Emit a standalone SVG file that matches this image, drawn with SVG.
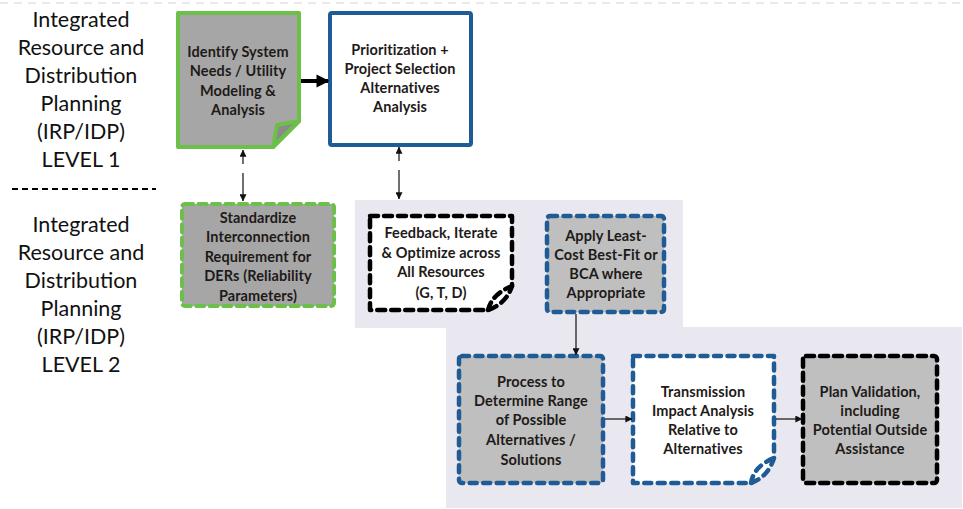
<svg xmlns="http://www.w3.org/2000/svg" width="963" height="509" viewBox="0 0 963 509">
  <defs>
    <marker id="headBig" viewBox="0 0 10 10" refX="9" refY="5" markerWidth="3.2" markerHeight="3.6" orient="auto" markerUnits="strokeWidth">
      <path d="M0,0 L10,5 L0,10 Z" fill="#000"/>
    </marker>
    <marker id="head" viewBox="0 0 10 10" refX="9.5" refY="5" markerWidth="7" markerHeight="7" orient="auto" markerUnits="userSpaceOnUse">
      <path d="M0,0 L10,5 L0,10 Z" fill="#111"/>
    </marker>
  </defs>
  <style>
    .side { font-family: Lato, "Liberation Sans", sans-serif; font-size: 21.5px; fill: #111; text-anchor: middle; }
    .lbl { font-family: Lato, "Liberation Sans", sans-serif; font-size: 14.5px; font-weight: bold; fill: #1e1a18; text-anchor: middle; letter-spacing: 0.1px; }
    .panel { fill: #e9e7f0; }
    .green { stroke: #6cc04a; stroke-width: 4; stroke-linejoin: round; }
    .blue { stroke: #1f5b94; stroke-width: 4; stroke-linejoin: round; }
    .dash { stroke-dasharray: 8 5.5; stroke-linecap: round; }
    .dashBlk { stroke: #000; stroke-width: 4.5; stroke-dasharray: 8 6; stroke-linecap: round; stroke-linejoin: round; }
    .dashBlue { stroke: #1f5b94; stroke-width: 4.5; stroke-dasharray: 7 6.5; stroke-linecap: round; stroke-linejoin: round; }
    .gray1 { fill: #a6a6a6; }
    .gray2 { fill: #bfbfbf; }
    .thin { stroke: #222; stroke-width: 1.3; fill: none; }
  </style>

  <!-- faint rule along the top edge -->
  <line x1="0" y1="3" x2="963" y2="3" stroke="#e4e4e4" stroke-width="1.5" stroke-dasharray="8 6"/>

  <!-- level captions -->
  <g id="level1">
    <text class="side" x="81" y="27">Integrated</text>
    <text class="side" x="81" y="55">Resource and</text>
    <text class="side" x="81" y="83">Distribution</text>
    <text class="side" x="81" y="111">Planning</text>
    <text class="side" x="81" y="139">(IRP/IDP)</text>
    <text class="side" x="81" y="167">LEVEL 1</text>
  </g>
  <line x1="12" y1="189" x2="156" y2="189" stroke="#000" stroke-width="2" stroke-dasharray="6 4"/>
  <g id="level2">
    <text class="side" x="81" y="232">Integrated</text>
    <text class="side" x="81" y="260">Resource and</text>
    <text class="side" x="81" y="288">Distribution</text>
    <text class="side" x="81" y="316">Planning</text>
    <text class="side" x="81" y="344">(IRP/IDP)</text>
    <text class="side" x="81" y="372">LEVEL 2</text>
  </g>

  <!-- level 2 background panels -->
  <g id="panels">
    <rect class="panel" x="355" y="200" width="328" height="128"/>
    <rect class="panel" x="446" y="327" width="516" height="181"/>
  </g>

  <!-- Level 1 nodes -->
  <g id="identify">
    <path class="green gray1" d="M178,13 H299 V121 L273,147 H178 Z"/>
    <path class="green" fill="#8a8a8a" d="M273,147 L277,125 L299,121 Z"/>
    <text class="lbl" x="238" y="57">Identify System</text>
    <text class="lbl" x="238" y="76">Needs / Utility</text>
    <text class="lbl" x="238" y="96">Modeling &amp;</text>
    <text class="lbl" x="238" y="115">Analysis</text>
  </g>

  <g id="prioritization">
    <rect class="blue" fill="#fff" x="330" y="13" width="141" height="132" rx="2"/>
    <text class="lbl" x="400" y="55">Prioritization +</text>
    <text class="lbl" x="400" y="74">Project Selection</text>
    <text class="lbl" x="400" y="93">Alternatives</text>
    <text class="lbl" x="400" y="112">Analysis</text>
  </g>

  <!-- Level 2 nodes -->
  <g id="standardize">
    <rect class="green dash gray1" x="182" y="204" width="152" height="102" rx="3"/>
    <text class="lbl" x="258" y="223">Standardize</text>
    <text class="lbl" x="258" y="242">Interconnection</text>
    <text class="lbl" x="258" y="262">Requirement for</text>
    <text class="lbl" x="258" y="281">DERs (Reliability</text>
    <text class="lbl" x="258" y="301">Parameters)</text>
  </g>

  <g id="feedback">
    <path class="dashBlk" fill="#fff" d="M370,216 H512 V286 Q506,304 488,310 H370 Z"/>
    <path class="dashBlk" fill="none" d="M488,310 Q492,294 512,286"/>
    <text class="lbl" x="441" y="238">Feedback, Iterate</text>
    <text class="lbl" x="441" y="258">&amp; Optimize across</text>
    <text class="lbl" x="441" y="277">All Resources</text>
    <text class="lbl" x="441" y="298">(G, T, D)</text>
  </g>

  <g id="leastcost">
    <rect class="dashBlue gray2" x="547" y="216" width="117" height="96" rx="3"/>
    <text class="lbl" x="606" y="241">Apply Least-</text>
    <text class="lbl" x="606" y="260">Cost Best-Fit or</text>
    <text class="lbl" x="606" y="279">BCA where</text>
    <text class="lbl" x="606" y="298">Appropriate</text>
  </g>

  <g id="process">
    <rect class="dashBlue gray2" x="459" y="356" width="144" height="127" rx="3"/>
    <text class="lbl" x="531" y="387">Process to</text>
    <text class="lbl" x="531" y="406">Determine Range</text>
    <text class="lbl" x="531" y="425">of Possible</text>
    <text class="lbl" x="531" y="445">Alternatives /</text>
    <text class="lbl" x="531" y="465">Solutions</text>
  </g>

  <g id="transmission">
    <path class="dashBlue" fill="#fff" d="M633,356 H774 V458 Q768,477 751,483 H633 Z"/>
    <path class="dashBlue" fill="none" d="M751,483 Q754,466 774,458"/>
    <text class="lbl" x="703" y="397">Transmission</text>
    <text class="lbl" x="703" y="416">Impact Analysis</text>
    <text class="lbl" x="703" y="435">Relative to</text>
    <text class="lbl" x="703" y="454">Alternatives</text>
  </g>

  <g id="validation">
    <rect class="dashBlk gray2" x="803" y="356" width="134" height="127" rx="3"/>
    <text class="lbl" x="870" y="397">Plan Validation,</text>
    <text class="lbl" x="870" y="416">including</text>
    <text class="lbl" x="870" y="435">Potential Outside</text>
    <text class="lbl" x="870" y="454">Assistance</text>
  </g>

  <!-- connectors -->
  <g id="connectors">
    <line x1="301" y1="81" x2="328" y2="81" stroke="#000" stroke-width="4" marker-end="url(#headBig)"/>
    <line class="thin" x1="243" y1="164" x2="243" y2="150" marker-end="url(#head)"/>
    <line class="thin" x1="243" y1="173" x2="243" y2="201" marker-end="url(#head)"/>
    <line class="thin" x1="399" y1="161" x2="399" y2="147" marker-end="url(#head)"/>
    <line class="thin" x1="399" y1="170" x2="399" y2="199" marker-end="url(#head)"/>
    <line class="thin" x1="576" y1="314" x2="576" y2="355" marker-end="url(#head)"/>
    <line class="thin" x1="605" y1="419" x2="632" y2="419" marker-end="url(#head)"/>
    <line class="thin" x1="776" y1="419" x2="802" y2="419" marker-end="url(#head)"/>
  </g>
</svg>
